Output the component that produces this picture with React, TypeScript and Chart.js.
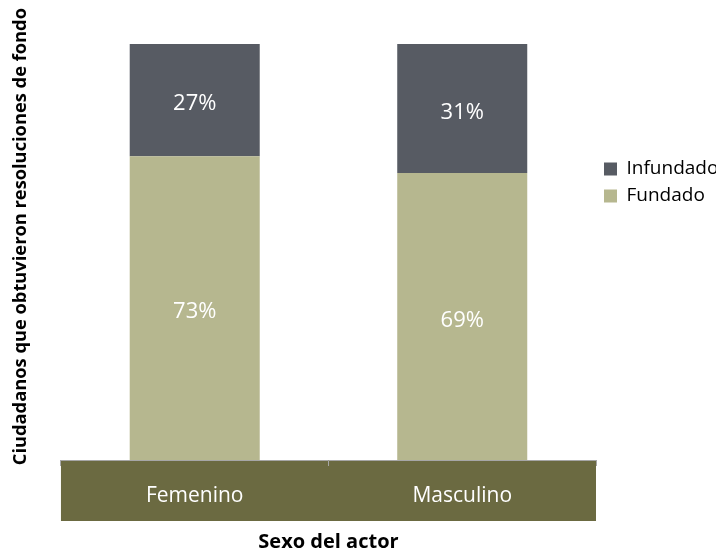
import React, { useEffect, useRef } from 'react';
import { Chart, registerables } from 'chart.js';

Chart.register(...registerables);

const categories = ['Femenino', 'Masculino'];
const seriesNames = ['Fundado', 'Infundado'];
const fundado = [73, 69];
const infundado = [27, 31];
const xTitle = 'Sexo del actor';
const yTitle = 'Ciudadanos que obtuvieron resoluciones de fondo';

const FONT = "'Open Sans', 'Noto Sans', sans-serif";
const COLOR_FUNDADO = '#b6b78f';
const COLOR_INFUNDADO = '#575b63';
const COLOR_BAND = '#6b6a41';

const bandPlugin = {
  id: 'xBand',
  beforeDraw(chart: any) {
    const { ctx, chartArea, scales } = chart;
    const x = scales.x;
    ctx.save();
    ctx.fillStyle = COLOR_BAND;
    ctx.fillRect(chartArea.left, x.top, chartArea.right - chartArea.left, 61);
    ctx.restore();
  },
};

const valueLabels = {
  id: 'valueLabels',
  afterDatasetsDraw(chart: any) {
    const { ctx } = chart;
    ctx.save();
    ctx.fillStyle = '#ffffff';
    ctx.font = `22px ${FONT}`;
    ctx.textAlign = 'center';
    ctx.textBaseline = 'middle';
    chart.data.datasets.forEach((ds: any, i: number) => {
      const meta = chart.getDatasetMeta(i);
      meta.data.forEach((el: any, j: number) => {
        const v = ds.data[j];
        ctx.fillText(`${v}%`, el.x, (el.y + el.base) / 2 + 4);
      });
    });
    ctx.restore();
  },
};

export default function App() {
  const ref = useRef<HTMLCanvasElement>(null);
  useEffect(() => {
    if (!ref.current) return;
    Chart.defaults.font.family = FONT;
    const chart = new Chart(ref.current, {
      type: 'bar',
      data: {
        labels: categories,
        datasets: [
          {
            label: seriesNames[0],
            data: fundado,
            backgroundColor: COLOR_FUNDADO,
            borderWidth: 0,
            barPercentage: 0.486,
            categoryPercentage: 1,
          },
          {
            label: seriesNames[1],
            data: infundado,
            backgroundColor: COLOR_INFUNDADO,
            borderWidth: 0,
            barPercentage: 0.486,
            categoryPercentage: 1,
          },
        ],
      },
      options: {
        animation: false,
        responsive: true,
        maintainAspectRatio: false,
        layout: { padding: 0 },
        plugins: {
          tooltip: { enabled: false },
          subtitle: {
            display: true,
            text: '',
            position: 'top',
            font: { size: 10, lineHeight: 1 },
            padding: { top: 26, bottom: 0 },
          },
          title: {
            display: true,
            text: yTitle,
            position: 'left',
            align: 'end',
            color: '#000000',
            font: { family: FONT, size: 18.3, weight: 'bold' },
            padding: { top: 2, bottom: 29 },
          },
          legend: {
            display: true,
            position: 'right',
            align: 'start',
            reverse: true,
            maxWidth: 128,
            title: {
              display: true,
              text: ' ',
              font: { size: 10, lineHeight: 1 },
              padding: { top: 133.5, bottom: 0 },
            },
            labels: {
              boxWidth: 13,
              boxHeight: 13,
              padding: 8,
              color: '#000000',
              font: { family: FONT, size: 19 },
            },
          },
        },
        scales: {
          x: {
            stacked: true,
            offset: true,
            grid: {
              display: true,
              drawOnChartArea: false,
              drawTicks: true,
              tickLength: 6,
              color: '#a6a6a6',
              offset: true,
            },
            border: { display: true, color: '#a6a6a6', width: 1 },
            ticks: {
              color: '#ffffff',
              font: { family: FONT, size: 21 },
              padding: 17,
            },
            title: {
              display: true,
              text: xTitle,
              color: '#000000',
              font: { family: FONT, size: 20, weight: 'bold', lineHeight: 0.7 },
              padding: { top: 30, bottom: 0 },
            },
            afterFit: (s: any) => {
              s.height = 89;
            },
          },
          y: {
            stacked: true,
            display: false,
            min: 0,
            max: 100,
          },
        },
      },
      plugins: [bandPlugin, valueLabels],
    } as any);
    return () => chart.destroy();
  }, []);
  return (
    <div style={{ width: 716, height: 541, position: 'relative' }}>
      <canvas ref={ref} />
    </div>
  );
}
